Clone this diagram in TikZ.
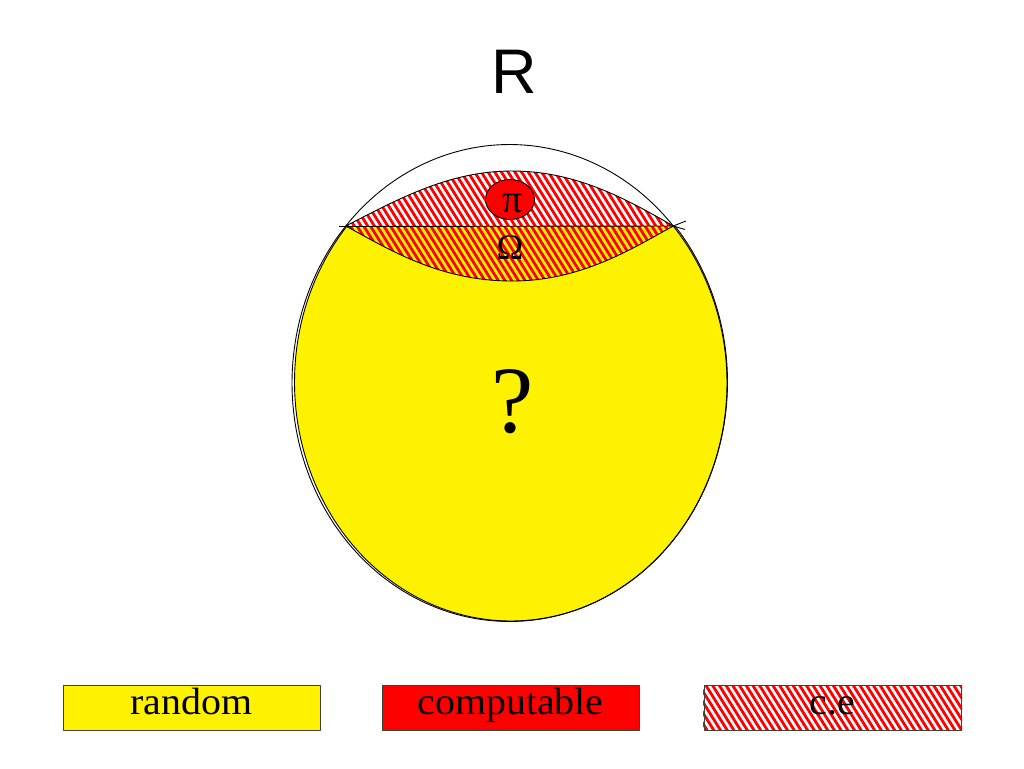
\documentclass[tikz,border=0pt]{standalone}
\usepackage{fontspec}
\setmainfont{Liberation Serif}
\newfontfamily\sansR{Liberation Sans}
\usetikzlibrary{shapes.geometric}
\newcommand\hatchlines[4]{%
  \foreach \k in {0,...,160}{%
    \draw[red,line width=2.8pt] ({#1-(#4-#3)/1.6+\k*6.7},#3) -- ++({(#4-#3)/1.6},{#4-#3});
  }%
}
\begin{document}
\begin{tikzpicture}[x=1pt,y=-1pt,line join=round,
  outline/.style={draw=black,line width=0.9pt},
  legendbox/.style={draw=black!70!yellow!50!black,line width=0.9pt,minimum width=257pt,minimum height=45pt,inner sep=0pt,
    text height=24pt,text depth=11pt,font=\fontsize{38}{38}\selectfont},
  lbl/.style={anchor=base,inner sep=0pt}]
\useasboundingbox (0,0) rectangle (1024,768);
\fill[white] (0,0) rectangle (1024,768);

% title
\node[lbl,font=\sansR\fontsize{63}{63}\selectfont] (title) at (514,93) {R};

% yellow blob (region below the chord)
\path[fill=yellow] plot[domain=139.25:400.75,samples=160]
  ({511+216.5*cos(\x)},{382-239*sin(\x)}) -- cycle;
\draw[outline] plot[domain=139.25:400.75,samples=160]
  ({511+216.5*cos(\x)},{382-239*sin(\x)});

% Omega lens (hatched over yellow)
\begin{scope}
  \clip (345.8,226) -- (673.2,226) .. controls (630,250) and (580,281) .. (512,281)
        .. controls (440,281) and (390,250) .. (345.8,226) -- cycle;
  \hatchlines{330}{700}{220}{290}
\end{scope}
\draw[outline] (673.2,226) .. controls (630,250) and (580,281) .. (512,281)
        .. controls (440,281) and (390,250) .. (345.8,226);

% upper lens (hatched over white)
\begin{scope}
  \clip (345.8,226) .. controls (400,198) and (450,171) .. (512,171)
        .. controls (575,171) and (625,198) .. (673.2,226) -- cycle;
  \hatchlines{330}{700}{165}{230}
\end{scope}
\draw[outline] (345.8,226) .. controls (400,198) and (450,171) .. (512,171)
        .. controls (575,171) and (625,198) .. (673.2,226);

% chord with small overshoots
\draw[outline] (339,226.5) -- (673.2,226) -- (686,221);
\draw[outline] (673.2,226) -- (685,229.5);

% outer ellipse
\draw[outline] plot[domain=0:360,samples=240]
  ({509.5+217.5*cos(\x)},{383-238.5*sin(\x)}) -- cycle;

% pi disc
\node[ellipse,draw=black,line width=0.9pt,fill=red,minimum width=49pt,minimum height=40pt,inner sep=0pt] (pi) at (510,199.5) {};
\node[lbl,font=\fontsize{40}{40}\selectfont] (pitext) at (513,212) {π};

% labels
\node[lbl,font=\fontsize{36}{36}\selectfont] (omega) at (510,259) {Ω};
\node[lbl,font=\fontsize{95}{95}\selectfont] (question) at (513,432) {?};

% legend
\node[legendbox,fill=yellow] (random) at (191.5,707.5) {\scalebox{1.05}[1]{random}};
\node[legendbox,fill=red] (computable) at (510.5,707.5) {\scalebox{1.05}[1]{computable}};
\begin{scope}
  \clip (703,685) rectangle (962,730);
  \hatchlines{690}{980}{680}{735}
\end{scope}
\node[legendbox] (ce) at (832.5,707.5) {\scalebox{1.05}[1]{c.e}};
\end{tikzpicture}
\end{document}
